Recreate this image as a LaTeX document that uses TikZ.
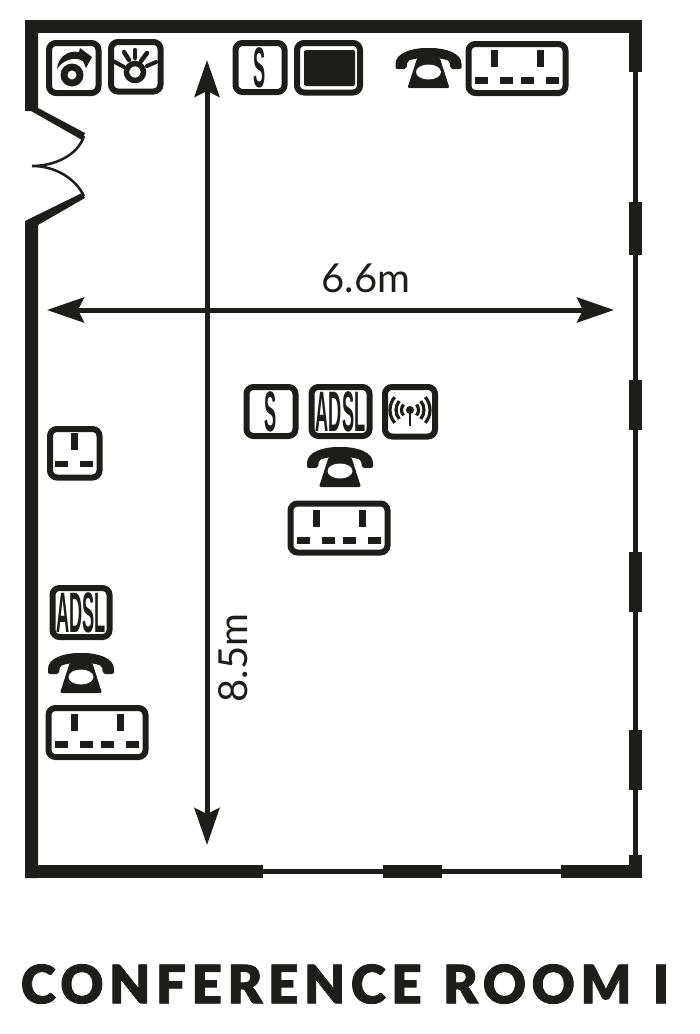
\documentclass[tikz,border=0pt]{standalone}
\usepackage{fontspec}
\usepackage{xcolor}
\setmainfont{Lato}
\newfontfamily\labelfont{Lato}
\newfontfamily\titlefont{Lato Black}[LetterSpace=10.6,FakeBold=1.6,WordSpace=1.2]
\newfontfamily\boxfont{Liberation Sans}[BoldFont={* Bold}]
\usetikzlibrary{arrows.meta}
\definecolor{ink}{HTML}{1D1D1B}

\tikzset{
    wall/.style={fill=ink},
    iconbox/.style={draw=ink, line width=6pt, rounded corners=7pt, fill=white},
    dimline/.style={draw=ink, line width=5pt, {Stealth[length=37pt,width=25pt,inset=6pt]}-{Stealth[length=37pt,width=25pt,inset=6pt]}},
    dimtext/.style={text=ink, font=\labelfont\fontsize{40}{40}\selectfont, inner sep=0pt},
    boxtext/.style={text=ink, font=\boxfont\bfseries\fontsize{57}{57}\selectfont, inner sep=0pt},
    pics/phone/.style={code={
        \fill[ink, rounded corners=2pt] (-33,-2) .. controls (-33,-15) and (-17,-20) .. (0,-20) .. controls (17,-20) and (33,-15) .. (33,-2) -- (33,1) -- (22,1) -- (21,-7) .. controls (10,-11) and (-10,-11) .. (-21,-7) -- (-22,1) -- (-33,1) -- cycle;
        \fill[ink, rounded corners=2pt] (-11,-11) -- (11,-11) -- (21,20) -- (-21,20) -- cycle;
        \fill[white] (0,4) ellipse (12.5 and 7.5);
    }},
    pics/socket/.style={code={
        \draw[iconbox] (-48.5,-24.5) rectangle (48.5,24.5);
        \fill[ink] (-26,-18.5) rectangle (-19,-1.5);
        \fill[ink] (20,-18.5) rectangle (27,-1.5);
        \foreach \px in {-42,-17,4,29}
            \fill[ink] (\px,8.5) rectangle (\px+13,15.5);
    }},
    pics/lettered/.style 2 args={code={
        \draw[iconbox] (-#1/2,-24.5) rectangle (#1/2,24.5);
        \node[boxtext, xscale=.32] (-txt) at (0,0) {#2};
    }}
}

\begin{document}
\begin{tikzpicture}[x=1pt,y=-1pt]
    \useasboundingbox (0,0) rectangle (700,1034);
    % walls
    \fill[wall] (25,20) rectangle (642,33);
    \fill[wall] (25,20) -- (38,20) -- (38,108) -- (85,133) -- (82,140) -- (31,111) -- (25,111) -- cycle;
    \fill[wall] (25,221) -- (82,193) -- (85,198) -- (38,225) -- (38,878) -- (25,878) -- cycle;
    \draw[ink, line width=2.5pt] (84,136) .. controls (78,155) and (55,166) .. (32,166) .. controls (55,166) and (75,178) .. (84,196);
    \fill[wall] (25,865) rectangle (263,878);
    \fill[wall] (263,869) rectangle (642,874);
    \fill[wall] (383,865) rectangle (442,878);
    \fill[wall] (561,865) rectangle (642,878);
    \fill[wall] (633,33) rectangle (638,878);
    \foreach \ya/\yb in {20/72, 202/255, 380/430, 552/612, 730/790, 855/878}
        \fill[wall] (628.5,\ya) rectangle (642,\yb);

    % dimensions
    \coordinate (top) at (207,60);
    \coordinate (bottom) at (207,845);
    \coordinate (left) at (47,310);
    \coordinate (right) at (614,310);
    \draw[dimline] (top) -- (bottom);
    \draw[dimline] (left) -- (right);
    \node[dimtext] (widthlabel) at (366,278) {6.6m};
    \node[dimtext, rotate=90] (lengthlabel) at (233,658) {8.5m};

    % top row of outlets
    \draw[iconbox] (49,43) rectangle (98.5,93);
    \fill[ink] (72,75) circle (11.5);
    \fill[white] (72,75) circle (4.5);
    \fill[ink] (57,69) .. controls (58,57) and (68,50) .. (79,52) -- (80,48) -- (92,57) -- (86,68) -- (83,61) .. controls (74,56) and (63,60) .. (57,69) -- cycle;
    \draw[iconbox] (111,42) rectangle (160.5,91.5);
    \draw[ink, line width=5.5pt] (135,72) circle (8.5);
    \draw[ink, line width=4.5pt, line cap=round] (135,50) -- (135,58);
    \draw[ink, line width=4.5pt, line cap=round] (124,52) -- (129,60);
    \draw[ink, line width=4.5pt, line cap=round] (147,53) -- (141,61);
    \draw[ink, line width=4pt, line cap=round] (113,61) -- (124,67);
    \draw[ink, line width=4pt, line cap=round] (156,62) -- (147,66);
    \pic (topS) at (260,67.5) {lettered={49}{S}};
    \draw[iconbox] (297,43) rectangle (360,92.5);
    \fill[ink, rounded corners=2pt] (304,50) rectangle (355,86);
    \pic (topphone) at (428.5,68) {phone};
    \pic (topsocket) at (517,68.5) {socket};

    % middle group
    \pic (midS) at (271,411.5) {lettered={49}{S}};
    \pic (midadsl) at (340.5,411.5) {lettered={58}{ADSL}};
    \draw[iconbox] (385,387) rectangle (435,436.5);
    \fill[ink] (410,410) circle (4);
    \draw[ink, line width=2.8pt] (410,410) -- (410,426);
    \foreach \r in {8.5,14,20} {
        \draw[ink, line width=3.2pt] (-40:\r) ++(410,410) arc (-40:40:\r);
        \draw[ink, line width=3.2pt] (140:\r) ++(410,410) arc (140:220:\r);
    }
    \pic (midphone) at (340,467) {phone};
    \pic (midsocket) at (339,528) {socket};

    % left wall
    \draw[iconbox] (50,429) rectangle (99.5,477.5);
    \fill[ink] (71,433) rectangle (78,450);
    \fill[ink] (55,461) rectangle (68,467);
    \fill[ink] (80,461) rectangle (93,467);
    \pic (leftadsl) at (81,612.5) {lettered={57}{ADSL}};
    \pic (leftphone) at (81,673) {phone};
    \pic (leftsocket) at (97,732.5) {socket};

    \node[text=ink, inner sep=0pt, font=\titlefont\fontsize{53}{53}\selectfont] (roomtitle) at (345,984) {CONFERENCE ROOM I};
\end{tikzpicture}
\end{document}
